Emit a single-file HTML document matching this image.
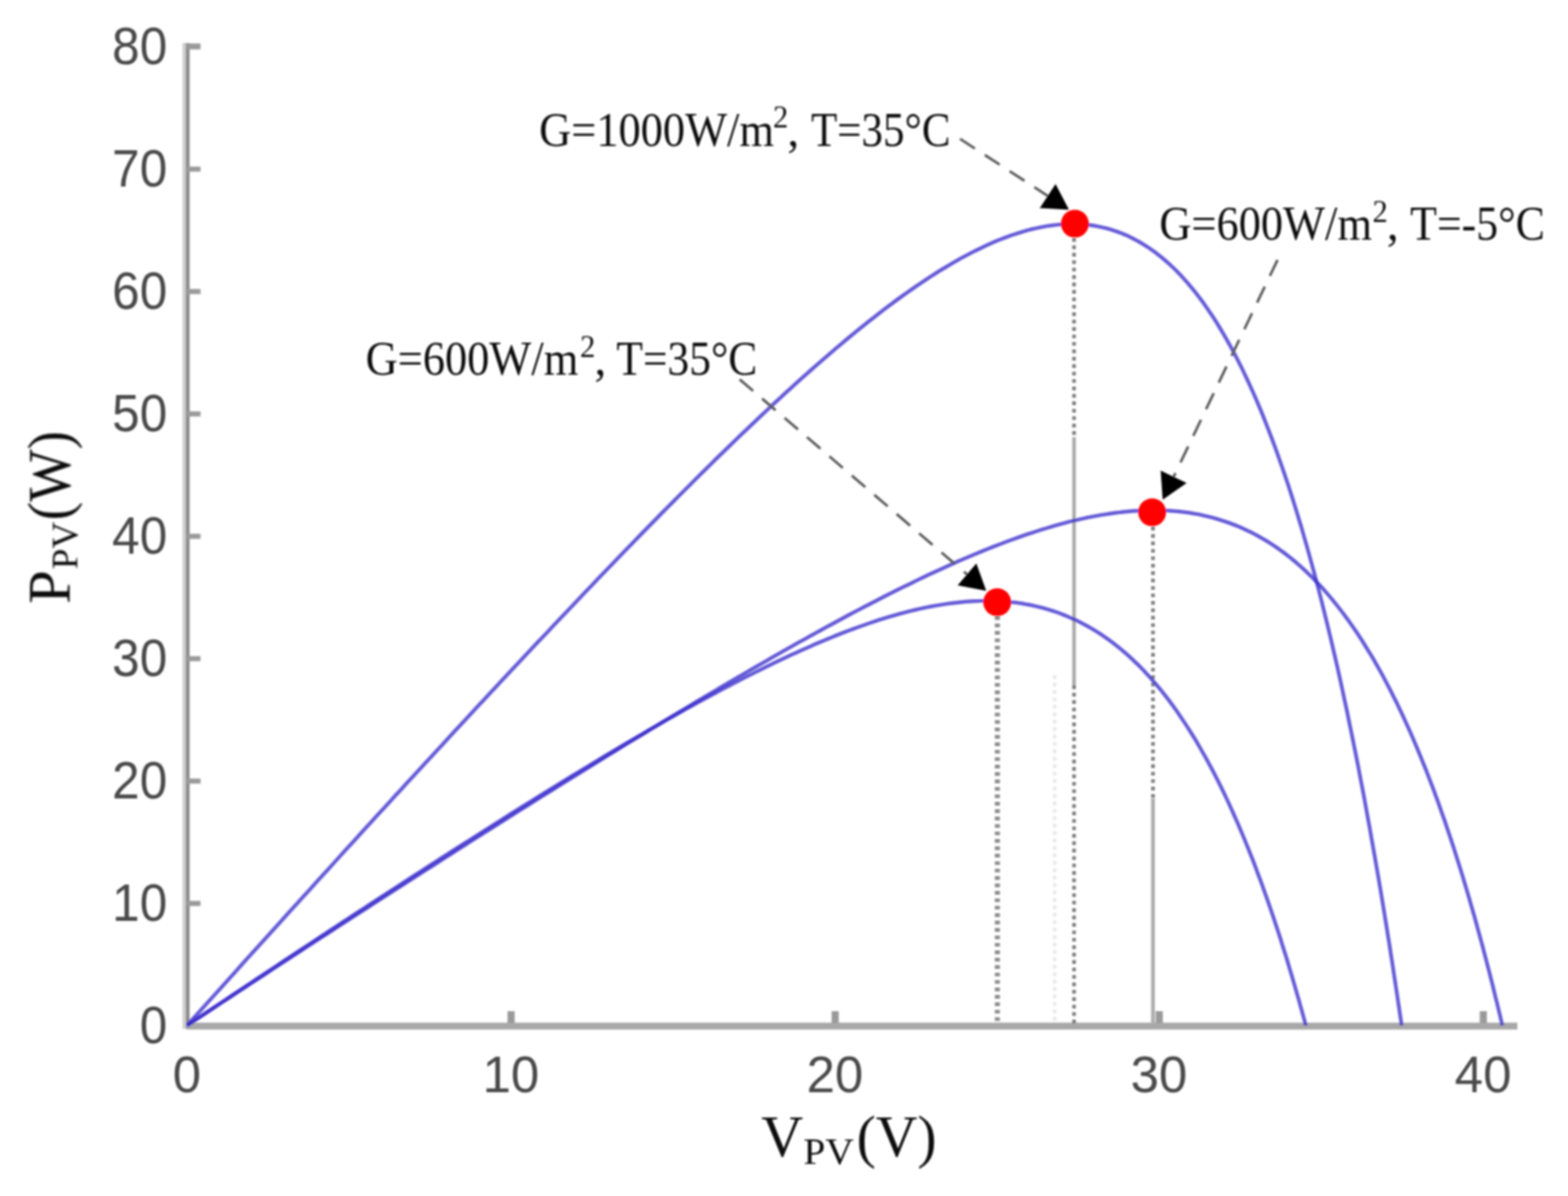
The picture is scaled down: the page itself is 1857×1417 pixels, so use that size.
<!DOCTYPE html>
<html lang="en">
<head>
<meta charset="utf-8">
<title>PV power-voltage characteristics</title>
<style>
html,body{margin:0;padding:0;background:#fff;}
body{width:1857px;height:1417px;overflow:hidden;}
svg{display:block;}
.tk{font-family:"Liberation Sans",Arial,sans-serif;font-size:62px;fill:#4a4a4a;}
.an{font-family:"Liberation Serif","Times New Roman",serif;font-size:56px;fill:#111;}
.lb{font-family:"Liberation Serif","Times New Roman",serif;font-size:72px;fill:#111;}
.cv{fill:none;stroke:#3a2ccc;stroke-opacity:0.78;stroke-width:4.4;stroke-linejoin:round;}
.dash{stroke:#5c5c5c;stroke-width:3.1;stroke-dasharray:21 14;fill:none;}
.dot{stroke:#7e7e7e;stroke-width:4.4;stroke-dasharray:4.4 4.4;fill:none;}
.sol{stroke:#ababab;stroke-width:4.4;fill:none;}
</style>
</head>
<body>
<svg width="1857" height="1417" viewBox="0 0 1857 1417">
<defs><filter id="soft" x="-2%" y="-2%" width="104%" height="104%"><feGaussianBlur stdDeviation="1.3"/></filter></defs>
<rect width="1857" height="1417" fill="#fff"/>
<g filter="url(#soft)">
<!-- axes -->
<rect x="216" y="51" width="4.2" height="1168" fill="#d0d0d0"/>
<rect x="220" y="51" width="4.6" height="1168" fill="#8c8c8c"/>
<rect x="221" y="51.5" width="16.5" height="7" fill="#9a9a9a"/>
<rect x="221" y="1067.4" width="16.5" height="6" fill="#9a9a9a"/><rect x="221" y="922.4" width="16.5" height="6" fill="#9a9a9a"/><rect x="221" y="777.4" width="16.5" height="6" fill="#9a9a9a"/><rect x="221" y="632.4" width="16.5" height="6" fill="#9a9a9a"/><rect x="221" y="487.4" width="16.5" height="6" fill="#9a9a9a"/><rect x="221" y="342.4" width="16.5" height="6" fill="#9a9a9a"/><rect x="221" y="197.4" width="16.5" height="6" fill="#9a9a9a"/>
<rect x="221" y="1211.6" width="1576" height="8.2" fill="#a8a8a8"/>
<rect x="601.1" y="1198" width="8.4" height="14" fill="#9a9a9a"/><rect x="984.9" y="1198" width="8.4" height="14" fill="#9a9a9a"/><rect x="1368.7" y="1198" width="8.4" height="14" fill="#9a9a9a"/><rect x="1752.5" y="1198" width="8.4" height="14" fill="#9a9a9a"/>
<!-- drop lines -->
<line x1="1181.2" y1="730" x2="1181.2" y2="1212" class="dot" style="stroke-width:6;stroke:#8a8a8a"/>
<line x1="1272" y1="282" x2="1272" y2="518" class="dot"/>
<line x1="1272" y1="518" x2="1272" y2="812" class="sol"/>
<line x1="1272" y1="812" x2="1272" y2="1214" class="dot"/>
<line x1="1365.5" y1="624" x2="1365.5" y2="946" class="dot"/>
<line x1="1365.5" y1="946" x2="1365.5" y2="1214" class="sol"/>
<line x1="1249" y1="800" x2="1249" y2="1212" class="dot" style="stroke:#999;stroke-opacity:0.22"/>
<!-- curves -->
<path class="cv" d="M221.5,1215.0 L226.8,1211.5 L233.8,1206.7 L240.8,1202.0 L247.8,1197.3 L254.9,1192.6 L261.8,1188.0 L268.8,1183.3 L275.8,1178.7 L282.7,1174.0 L289.7,1169.4 L296.6,1164.8 L303.5,1160.2 L310.4,1155.6 L317.2,1151.1 L324.1,1146.5 L330.9,1142.0 L337.8,1137.4 L344.6,1132.9 L351.4,1128.4 L358.2,1123.9 L364.9,1119.5 L371.7,1115.0 L378.4,1110.6 L385.2,1106.1 L391.9,1101.7 L398.6,1097.3 L405.3,1092.9 L411.9,1088.5 L418.6,1084.2 L425.2,1079.8 L431.9,1075.5 L438.5,1071.2 L445.1,1066.9 L451.6,1062.6 L458.2,1058.3 L464.8,1054.0 L471.3,1049.8 L477.8,1045.6 L484.3,1041.4 L490.8,1037.2 L497.3,1033.0 L503.7,1028.8 L510.2,1024.6 L516.6,1020.5 L523.0,1016.4 L529.4,1012.3 L535.8,1008.2 L542.2,1004.1 L548.5,1000.0 L554.9,996.0 L561.2,992.0 L567.5,988.0 L573.8,984.0 L580.1,980.0 L586.3,976.0 L592.6,972.1 L598.8,968.2 L605.0,964.2 L611.2,960.3 L617.4,956.5 L623.6,952.6 L629.7,948.8 L635.9,945.0 L642.0,941.2 L648.1,937.4 L654.2,933.6 L660.3,929.9 L666.3,926.1 L672.4,922.4 L678.4,918.7 L684.4,915.1 L690.4,911.4 L696.4,907.8 L702.4,904.2 L708.3,900.6 L714.3,897.0 L720.2,893.5 L726.1,890.0 L732.0,886.5 L737.8,883.0 L743.7,879.5 L749.5,876.1 L755.4,872.7 L761.2,869.3 L767.0,866.0 L772.7,862.6 L778.5,859.3 L784.2,856.0 L790.0,852.7 L795.7,849.5 L801.4,846.3 L807.1,843.1 L812.7,839.9 L818.4,836.8 L824.0,833.7 L829.6,830.6 L835.2,827.5 L840.8,824.5 L846.4,821.5 L851.9,818.5 L857.4,815.6 L863.0,812.7 L868.4,809.8 L873.9,807.0 L879.4,804.1 L884.8,801.4 L890.3,798.6 L895.7,795.9 L901.1,793.2 L906.5,790.5 L911.8,787.9 L917.2,785.3 L922.5,782.7 L927.8,780.2 L933.1,777.7 L938.4,775.3 L943.7,772.9 L948.9,770.5 L954.2,768.2 L959.4,765.9 L964.6,763.6 L969.8,761.4 L974.9,759.2 L980.1,757.1 L985.2,755.0 L990.3,752.9 L995.4,750.9 L1000.5,748.9 L1005.5,747.0 L1010.6,745.1 L1015.6,743.3 L1020.6,741.5 L1025.6,739.7 L1030.6,738.0 L1035.5,736.4 L1040.5,734.7 L1045.4,733.2 L1050.3,731.7 L1055.2,730.2 L1060.0,728.8 L1064.9,727.4 L1069.7,726.1 L1074.5,724.9 L1079.3,723.7 L1084.1,722.5 L1088.9,721.4 L1093.6,720.4 L1098.3,719.4 L1103.0,718.5 L1107.7,717.6 L1112.4,716.8 L1117.0,716.1 L1121.7,715.4 L1126.3,714.7 L1130.9,714.2 L1135.5,713.7 L1140.0,713.2 L1144.6,712.8 L1149.1,712.5 L1153.6,712.2 L1158.1,712.1 L1162.5,711.9 L1167.0,711.9 L1171.4,711.9 L1175.8,711.9 L1180.2,712.1 L1184.6,712.3 L1189.0,712.6 L1193.3,712.9 L1197.6,713.4 L1201.9,713.8 L1206.2,714.4 L1210.4,715.0 L1214.7,715.8 L1218.9,716.5 L1223.1,717.4 L1227.3,718.3 L1231.4,719.3 L1235.6,720.4 L1239.7,721.6 L1243.8,722.8 L1247.9,724.1 L1252.0,725.5 L1256.0,727.0 L1260.0,728.6 L1264.0,730.2 L1268.0,731.9 L1272.0,733.7 L1275.9,735.6 L1279.8,737.5 L1283.7,739.6 L1287.6,741.7 L1291.5,743.9 L1295.3,746.1 L1299.1,748.5 L1302.9,750.9 L1306.7,753.5 L1310.5,756.1 L1314.2,758.8 L1317.9,761.5 L1321.6,764.4 L1325.3,767.3 L1328.9,770.4 L1332.6,773.5 L1336.2,776.6 L1339.7,779.9 L1343.3,783.3 L1346.8,786.7 L1350.4,790.2 L1353.9,793.8 L1357.3,797.5 L1360.8,801.2 L1364.2,805.1 L1367.6,809.0 L1371.0,813.0 L1374.4,817.0 L1377.7,821.2 L1381.0,825.4 L1384.3,829.7 L1387.6,834.1 L1390.8,838.6 L1394.0,843.1 L1397.2,847.7 L1400.4,852.4 L1403.5,857.1 L1406.6,861.9 L1409.7,866.8 L1412.8,871.7 L1415.9,876.7 L1418.9,881.8 L1421.9,887.0 L1424.8,892.2 L1427.8,897.4 L1430.7,902.7 L1433.6,908.1 L1436.5,913.5 L1439.3,919.0 L1442.1,924.5 L1444.9,930.1 L1447.7,935.7 L1450.4,941.4 L1453.1,947.1 L1455.8,952.9 L1458.4,958.6 L1461.0,964.5 L1463.6,970.3 L1466.2,976.2 L1468.7,982.1 L1471.2,988.0 L1473.7,994.0 L1476.1,1000.0 L1478.5,1005.9 L1480.9,1011.9 L1483.3,1017.9 L1485.6,1023.9 L1487.9,1030.0 L1490.1,1036.0 L1492.4,1042.0 L1494.6,1048.0 L1496.7,1053.9 L1498.8,1059.9 L1500.9,1065.8 L1503.0,1071.7 L1505.0,1077.6 L1507.0,1083.5 L1508.9,1089.3 L1510.8,1095.0 L1512.7,1100.8 L1514.6,1106.4 L1516.4,1112.0 L1518.1,1117.6 L1519.8,1123.0 L1521.5,1128.4 L1523.2,1133.7 L1524.8,1139.0 L1526.3,1144.1 L1527.8,1149.1 L1529.3,1154.1 L1530.7,1158.9 L1532.1,1163.6 L1533.4,1168.2 L1534.7,1172.6 L1535.9,1176.9 L1537.1,1181.0 L1538.3,1185.0 L1539.3,1188.8 L1540.3,1192.5 L1541.3,1195.9 L1542.2,1199.1 L1543.0,1202.2 L1543.8,1204.9 L1544.5,1207.5 L1545.1,1209.7 L1545.6,1211.7 L1546.0,1213.3 L1546.4,1214.4 L1546.5,1215.0"/>
<path class="cv" d="M221.5,1215.0 L223.4,1213.7 L231.7,1208.2 L240.0,1202.8 L248.3,1197.3 L256.5,1191.9 L264.8,1186.5 L273.0,1181.1 L281.2,1175.7 L289.4,1170.3 L297.5,1165.0 L305.7,1159.6 L313.8,1154.3 L321.9,1149.0 L330.0,1143.7 L338.1,1138.4 L346.1,1133.1 L354.2,1127.9 L362.2,1122.7 L370.2,1117.4 L378.2,1112.2 L386.2,1107.1 L394.2,1101.9 L402.1,1096.7 L410.0,1091.6 L417.9,1086.5 L425.8,1081.4 L433.7,1076.3 L441.6,1071.2 L449.4,1066.1 L457.2,1061.1 L465.0,1056.1 L472.8,1051.1 L480.6,1046.1 L488.3,1041.1 L496.1,1036.1 L503.8,1031.2 L511.5,1026.3 L519.2,1021.3 L526.8,1016.5 L534.5,1011.6 L542.1,1006.7 L549.7,1001.9 L557.3,997.0 L564.9,992.2 L572.4,987.4 L580.0,982.6 L587.5,977.9 L595.0,973.1 L602.5,968.4 L609.9,963.7 L617.4,959.0 L624.8,954.3 L632.2,949.7 L639.6,945.0 L647.0,940.4 L654.4,935.8 L661.7,931.2 L669.0,926.7 L676.3,922.1 L683.6,917.6 L690.9,913.1 L698.1,908.6 L705.4,904.1 L712.6,899.6 L719.8,895.2 L726.9,890.8 L734.1,886.4 L741.2,882.0 L748.4,877.6 L755.5,873.3 L762.6,869.0 L769.6,864.7 L776.7,860.4 L783.7,856.1 L790.7,851.9 L797.7,847.7 L804.7,843.5 L811.6,839.3 L818.6,835.2 L825.5,831.0 L832.4,826.9 L839.2,822.8 L846.1,818.8 L852.9,814.7 L859.8,810.7 L866.6,806.7 L873.4,802.7 L880.1,798.8 L886.9,794.9 L893.6,791.0 L900.3,787.1 L907.0,783.3 L913.6,779.4 L920.3,775.6 L926.9,771.9 L933.5,768.1 L940.1,764.4 L946.7,760.7 L953.3,757.1 L959.8,753.4 L966.3,749.8 L972.8,746.3 L979.3,742.7 L985.7,739.2 L992.2,735.7 L998.6,732.3 L1005.0,728.8 L1011.3,725.4 L1017.7,722.1 L1024.0,718.8 L1030.4,715.5 L1036.7,712.2 L1042.9,709.0 L1049.2,705.8 L1055.4,702.6 L1061.6,699.5 L1067.8,696.4 L1074.0,693.4 L1080.2,690.4 L1086.3,687.4 L1092.4,684.5 L1098.5,681.6 L1104.6,678.8 L1110.7,676.0 L1116.7,673.2 L1122.7,670.5 L1128.7,667.8 L1134.7,665.1 L1140.6,662.5 L1146.6,660.0 L1152.5,657.5 L1158.4,655.0 L1164.2,652.6 L1170.1,650.3 L1175.9,647.9 L1181.7,645.7 L1187.5,643.5 L1193.3,641.3 L1199.0,639.2 L1204.8,637.1 L1210.5,635.1 L1216.1,633.2 L1221.8,631.3 L1227.5,629.5 L1233.1,627.7 L1238.7,626.0 L1244.2,624.3 L1249.8,622.7 L1255.3,621.1 L1260.9,619.7 L1266.3,618.2 L1271.8,616.9 L1277.3,615.6 L1282.7,614.4 L1288.1,613.2 L1293.5,612.1 L1298.8,611.1 L1304.2,610.2 L1309.5,609.3 L1314.8,608.5 L1320.1,607.7 L1325.3,607.1 L1330.6,606.5 L1335.8,606.0 L1341.0,605.5 L1346.1,605.2 L1351.3,604.9 L1356.4,604.7 L1361.5,604.5 L1366.5,604.5 L1371.6,604.6 L1376.6,604.7 L1381.6,604.9 L1386.6,605.2 L1391.6,605.6 L1396.5,606.0 L1401.4,606.6 L1406.3,607.2 L1411.2,608.0 L1416.0,608.8 L1420.9,609.7 L1425.7,610.8 L1430.4,611.9 L1435.2,613.1 L1439.9,614.4 L1444.6,615.8 L1449.3,617.3 L1454.0,618.9 L1458.6,620.6 L1463.2,622.4 L1467.8,624.3 L1472.3,626.3 L1476.9,628.4 L1481.4,630.6 L1485.9,632.9 L1490.3,635.3 L1494.8,637.8 L1499.2,640.4 L1503.6,643.2 L1508.0,646.0 L1512.3,648.9 L1516.6,652.0 L1520.9,655.1 L1525.2,658.4 L1529.4,661.8 L1533.6,665.3 L1537.8,668.9 L1542.0,672.6 L1546.1,676.4 L1550.2,680.3 L1554.3,684.3 L1558.3,688.5 L1562.4,692.7 L1566.4,697.1 L1570.4,701.6 L1574.3,706.1 L1578.2,710.8 L1582.1,715.6 L1586.0,720.5 L1589.8,725.5 L1593.6,730.6 L1597.4,735.8 L1601.2,741.2 L1604.9,746.6 L1608.6,752.1 L1612.3,757.7 L1615.9,763.5 L1619.5,769.3 L1623.1,775.2 L1626.7,781.2 L1630.2,787.3 L1633.7,793.5 L1637.2,799.8 L1640.6,806.2 L1644.0,812.7 L1647.4,819.3 L1650.7,825.9 L1654.1,832.6 L1657.3,839.4 L1660.6,846.3 L1663.8,853.3 L1667.0,860.3 L1670.2,867.4 L1673.3,874.6 L1676.4,881.8 L1679.4,889.1 L1682.4,896.4 L1685.4,903.8 L1688.4,911.2 L1691.3,918.7 L1694.2,926.3 L1697.1,933.8 L1699.9,941.4 L1702.7,949.1 L1705.4,956.7 L1708.1,964.4 L1710.8,972.1 L1713.4,979.8 L1716.0,987.5 L1718.6,995.2 L1721.1,1002.9 L1723.6,1010.6 L1726.0,1018.3 L1728.4,1025.9 L1730.8,1033.6 L1733.1,1041.2 L1735.3,1048.7 L1737.6,1056.2 L1739.8,1063.7 L1741.9,1071.1 L1744.0,1078.4 L1746.1,1085.7 L1748.1,1092.9 L1750.0,1100.0 L1752.0,1107.0 L1753.8,1113.8 L1755.7,1120.6 L1757.4,1127.3 L1759.1,1133.8 L1760.8,1140.2 L1762.4,1146.4 L1764.0,1152.5 L1765.5,1158.4 L1766.9,1164.1 L1768.3,1169.6 L1769.6,1174.9 L1770.8,1180.0 L1772.0,1184.8 L1773.2,1189.4 L1774.2,1193.8 L1775.2,1197.8 L1776.1,1201.5 L1776.9,1204.9 L1777.6,1207.9 L1778.2,1210.5 L1778.7,1212.7 L1779.1,1214.2 L1779.3,1215.0"/>
<path class="cv" d="M221.5,1215.0 L223.7,1212.6 L231.3,1204.0 L239.0,1195.5 L246.6,1187.1 L254.2,1178.6 L261.8,1170.2 L269.4,1161.7 L276.9,1153.4 L284.4,1145.0 L292.0,1136.6 L299.5,1128.3 L307.0,1120.0 L314.5,1111.7 L321.9,1103.5 L329.4,1095.2 L336.8,1087.0 L344.2,1078.8 L351.6,1070.7 L359.0,1062.5 L366.4,1054.4 L373.7,1046.3 L381.0,1038.2 L388.4,1030.2 L395.7,1022.1 L402.9,1014.1 L410.2,1006.1 L417.5,998.2 L424.7,990.3 L431.9,982.3 L439.1,974.5 L446.3,966.6 L453.5,958.7 L460.7,950.9 L467.8,943.1 L474.9,935.4 L482.0,927.6 L489.1,919.9 L496.2,912.2 L503.3,904.5 L510.3,896.9 L517.4,889.3 L524.4,881.7 L531.4,874.1 L538.3,866.5 L545.3,859.0 L552.3,851.5 L559.2,844.1 L566.1,836.6 L573.0,829.2 L579.9,821.8 L586.7,814.4 L593.6,807.1 L600.4,799.8 L607.2,792.5 L614.0,785.2 L620.8,778.0 L627.6,770.8 L634.3,763.6 L641.1,756.5 L647.8,749.4 L654.5,742.3 L661.1,735.2 L667.8,728.2 L674.5,721.2 L681.1,714.2 L687.7,707.3 L694.3,700.3 L700.9,693.5 L707.4,686.6 L714.0,679.8 L720.5,673.0 L727.0,666.2 L733.5,659.5 L740.0,652.8 L746.4,646.2 L752.9,639.5 L759.3,632.9 L765.7,626.4 L772.1,619.9 L778.5,613.4 L784.8,606.9 L791.2,600.5 L797.5,594.1 L803.8,587.8 L810.1,581.5 L816.4,575.2 L822.6,569.0 L828.8,562.8 L835.1,556.6 L841.3,550.5 L847.4,544.4 L853.6,538.4 L859.8,532.4 L865.9,526.4 L872.0,520.5 L878.1,514.7 L884.2,508.8 L890.2,503.1 L896.3,497.3 L902.3,491.7 L908.3,486.0 L914.3,480.4 L920.2,474.9 L926.2,469.4 L932.1,463.9 L938.0,458.6 L943.9,453.2 L949.8,447.9 L955.7,442.7 L961.5,437.5 L967.3,432.4 L973.1,427.3 L978.9,422.3 L984.7,417.3 L990.4,412.4 L996.2,407.6 L1001.9,402.8 L1007.6,398.0 L1013.3,393.4 L1018.9,388.8 L1024.6,384.3 L1030.2,379.8 L1035.8,375.4 L1041.4,371.0 L1046.9,366.8 L1052.5,362.6 L1058.0,358.4 L1063.5,354.4 L1069.0,350.4 L1074.5,346.5 L1080.0,342.6 L1085.4,338.9 L1090.8,335.2 L1096.2,331.6 L1101.6,328.0 L1107.0,324.6 L1112.3,321.2 L1117.6,318.0 L1122.9,314.8 L1128.2,311.7 L1133.5,308.6 L1138.7,305.7 L1143.9,302.9 L1149.2,300.1 L1154.3,297.4 L1159.5,294.9 L1164.7,292.4 L1169.8,290.0 L1174.9,287.8 L1180.0,285.6 L1185.1,283.5 L1190.1,281.6 L1195.2,279.7 L1200.2,278.0 L1205.2,276.3 L1210.1,274.8 L1215.1,273.4 L1220.0,272.0 L1224.9,270.8 L1229.8,269.8 L1234.7,268.8 L1239.6,267.9 L1244.4,267.2 L1249.2,266.6 L1254.0,266.1 L1258.8,265.8 L1263.5,265.5 L1268.3,265.4 L1273.0,265.4 L1277.7,265.6 L1282.4,265.9 L1287.0,266.3 L1291.6,266.8 L1296.3,267.5 L1300.8,268.4 L1305.4,269.3 L1310.0,270.4 L1314.5,271.7 L1319.0,273.1 L1323.5,274.6 L1328.0,276.3 L1332.4,278.1 L1336.8,280.1 L1341.2,282.3 L1345.6,284.6 L1350.0,287.0 L1354.3,289.6 L1358.6,292.3 L1362.9,295.2 L1367.2,298.3 L1371.4,301.5 L1375.7,304.9 L1379.9,308.5 L1384.1,312.2 L1388.2,316.0 L1392.4,320.0 L1396.5,324.2 L1400.6,328.6 L1404.6,333.1 L1408.7,337.8 L1412.7,342.7 L1416.7,347.7 L1420.7,352.9 L1424.7,358.2 L1428.6,363.8 L1432.5,369.5 L1436.4,375.3 L1440.3,381.3 L1444.1,387.5 L1447.9,393.9 L1451.7,400.4 L1455.5,407.1 L1459.3,414.0 L1463.0,421.0 L1466.7,428.2 L1470.4,435.6 L1474.0,443.1 L1477.6,450.8 L1481.2,458.7 L1484.8,466.7 L1488.4,474.9 L1491.9,483.2 L1495.4,491.7 L1498.8,500.4 L1502.3,509.2 L1505.7,518.1 L1509.1,527.2 L1512.5,536.5 L1515.8,545.9 L1519.1,555.4 L1522.4,565.1 L1525.7,574.9 L1528.9,584.8 L1532.1,594.9 L1535.3,605.1 L1538.4,615.5 L1541.6,625.9 L1544.6,636.5 L1547.7,647.2 L1550.7,658.0 L1553.7,668.9 L1556.7,679.9 L1559.7,691.0 L1562.6,702.2 L1565.5,713.5 L1568.3,724.9 L1571.1,736.3 L1573.9,747.8 L1576.7,759.4 L1579.4,771.1 L1582.1,782.8 L1584.8,794.5 L1587.4,806.3 L1590.0,818.1 L1592.5,830.0 L1595.1,841.8 L1597.5,853.7 L1600.0,865.6 L1602.4,877.5 L1604.8,889.4 L1607.2,901.2 L1609.5,913.1 L1611.7,924.8 L1614.0,936.6 L1616.2,948.3 L1618.3,959.9 L1620.4,971.5 L1622.5,982.9 L1624.5,994.3 L1626.5,1005.6 L1628.5,1016.8 L1630.4,1027.8 L1632.3,1038.7 L1634.1,1049.4 L1635.9,1060.0 L1637.6,1070.4 L1639.3,1080.6 L1640.9,1090.6 L1642.5,1100.4 L1644.0,1109.9 L1645.5,1119.2 L1646.9,1128.3 L1648.3,1137.0 L1649.6,1145.5 L1650.8,1153.6 L1652.0,1161.4 L1653.1,1168.8 L1654.2,1175.9 L1655.2,1182.5 L1656.1,1188.7 L1657.0,1194.4 L1657.7,1199.6 L1658.4,1204.2 L1659.0,1208.2 L1659.5,1211.4 L1659.8,1213.8 L1660.0,1215.0"/>
<!-- arrows -->
<line x1="1137" y1="164.5" x2="1247.6" y2="236.5" class="dash"/><polygon points="1266.0,248.5 1231.6,246.4 1250.1,217.9" fill="#000"/>
<line x1="1513" y1="308" x2="1386.5" y2="572.2" class="dash"/><polygon points="1377.0,592.0 1374.6,557.6 1405.3,572.3" fill="#000"/>
<line x1="876" y1="449.5" x2="1151.3" y2="685.7" class="dash"/><polygon points="1168.0,700.0 1134.2,693.4 1156.3,667.6" fill="#000"/>
<!-- mpp markers -->
<circle cx="1273" cy="265" r="16.5" fill="#ff0000"/>
<circle cx="1364.5" cy="607" r="16.5" fill="#ff0000"/>
<circle cx="1181" cy="713.5" r="16.5" fill="#ff0000"/>
<!-- tick labels -->
<text transform="translate(198,1235.7) scale(0.945,1)" text-anchor="end" class="tk">0</text><text transform="translate(198,1090.7) scale(0.945,1)" text-anchor="end" class="tk">10</text><text transform="translate(198,945.7) scale(0.945,1)" text-anchor="end" class="tk">20</text><text transform="translate(198,800.7) scale(0.945,1)" text-anchor="end" class="tk">30</text><text transform="translate(198,655.7) scale(0.945,1)" text-anchor="end" class="tk">40</text><text transform="translate(198,510.7) scale(0.945,1)" text-anchor="end" class="tk">50</text><text transform="translate(198,365.7) scale(0.945,1)" text-anchor="end" class="tk">60</text><text transform="translate(198,220.7) scale(0.945,1)" text-anchor="end" class="tk">70</text><text transform="translate(198,75.7) scale(0.945,1)" text-anchor="end" class="tk">80</text>
<text transform="translate(221.2,1294.4) scale(0.975,1)" text-anchor="middle" class="tk">0</text><text transform="translate(605.0,1294.4) scale(0.975,1)" text-anchor="middle" class="tk">10</text><text transform="translate(988.8,1294.4) scale(0.975,1)" text-anchor="middle" class="tk">20</text><text transform="translate(1372.6,1294.4) scale(0.975,1)" text-anchor="middle" class="tk">30</text><text transform="translate(1756.4,1294.4) scale(0.975,1)" text-anchor="middle" class="tk">40</text>
<!-- annotations -->
<text transform="translate(638.5,173) scale(0.94,1)" class="an">G=1000W/m</text><text transform="translate(915.5,150.5) scale(0.95,1)" class="an" style="font-size:38px">2</text><text transform="translate(932.5,173) scale(1,1)" class="an">,</text><text transform="translate(960.5,173) scale(0.91,1)" class="an">T=35°C</text>
<text transform="translate(1373,283.5) scale(0.94,1)" class="an">G=600W/m</text><text transform="translate(1625.5,263.0) scale(0.95,1)" class="an" style="font-size:38px">2</text><text transform="translate(1642.5,283.5) scale(1,1)" class="an">,</text><text transform="translate(1670,283.5) scale(0.928,1)" class="an">T=-5°C</text>
<text transform="translate(433,443.5) scale(0.94,1)" class="an">G=600W/m</text><text transform="translate(687,423.0) scale(0.95,1)" class="an" style="font-size:38px">2</text><text transform="translate(704,443.5) scale(1,1)" class="an">,</text><text transform="translate(730,443.5) scale(0.92,1)" class="an">T=35°C</text>
<!-- axis labels -->
<text x="901.5" y="1369.5" class="lb" style="font-size:69px">V</text>
<text transform="translate(951.5,1378.5) scale(1.06,1)" class="lb" style="font-size:44px">PV</text>
<text transform="translate(1014.5,1369.5) scale(0.99,1)" class="lb" style="font-size:69px">(V)</text>
<g transform="translate(82.5,715.5) rotate(-90)">
<text x="0" y="0" class="lb">P</text>
<text transform="translate(41,9) scale(1.0,1)" class="lb" style="font-size:44px">PV</text>
<text transform="translate(99,0) scale(0.914,1)" class="lb">(W)</text>
</g>
</g>
</svg>
</body>
</html>
